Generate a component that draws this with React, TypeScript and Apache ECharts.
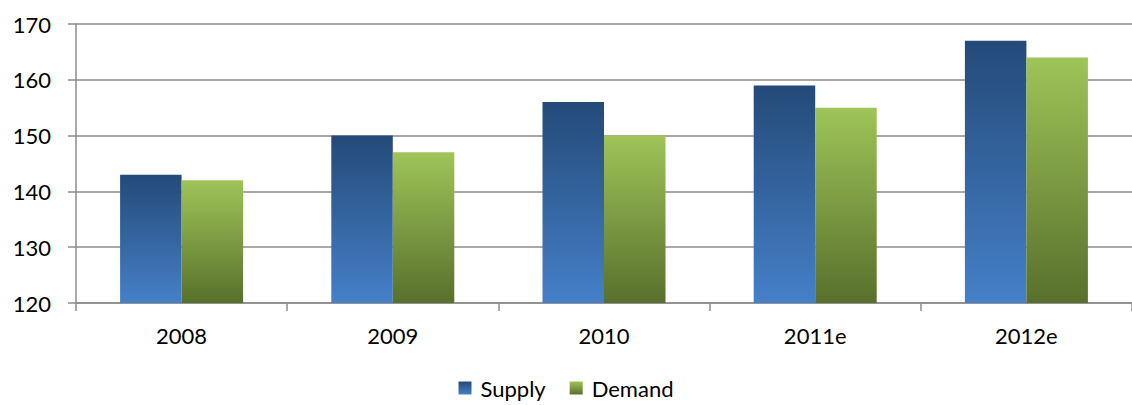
import React, { useEffect, useRef } from "react";
import * as echarts from "echarts";

const categories = ["2008", "2009", "2010", "2011e", "2012e"];
const supply = [143, 150, 156, 159, 167];
const demand = [142, 147, 150, 155, 164];
const yTicks = { min: 120, max: 170, interval: 10 };

export default function App() {
  const ref = useRef<HTMLDivElement>(null);
  useEffect(() => {
    document.body.style.margin = "0";
    const chart = echarts.init(ref.current!, null, { renderer: "svg" });
    const font = "Lato, 'Open Sans', sans-serif";
    const axisColor = "#8c8c8c";
    chart.setOption({
      animation: false,
      backgroundColor: "#ffffff",
      grid: { left: 76, top: 24, width: 1065, height: 279, containLabel: false },
      legend: {
        top: 372,
        left: "center",
        itemWidth: 13,
        itemHeight: 13,
        itemGap: 24,
        icon: "rect",
        textStyle: { fontFamily: font, fontSize: 22, color: "#000", padding: [0, 0, 0, 4] },
        data: ["Supply", "Demand"],
      },
      xAxis: {
        type: "category",
        data: categories,
        axisLine: { lineStyle: { color: axisColor, width: 1.5 } },
        axisTick: { show: true, length: 8, lineStyle: { color: axisColor, width: 1.5 } },
        axisLabel: { fontFamily: font, fontSize: 22, color: "#000", margin: 21 },
      },
      yAxis: {
        type: "value",
        min: yTicks.min,
        max: yTicks.max,
        interval: yTicks.interval,
        axisLine: { show: true, lineStyle: { color: axisColor, width: 1.5 } },
        axisTick: { show: true, length: 8, lineStyle: { color: axisColor, width: 1.5 } },
        splitLine: { lineStyle: { color: axisColor, width: 1.5 } },
        axisLabel: { fontFamily: font, fontSize: 22, color: "#000", margin: 25 },
      },
      series: [
        {
          name: "Supply",
          type: "bar",
          data: supply,
          barWidth: 61.5,
          barGap: "0%",
          itemStyle: {
            color: new echarts.graphic.LinearGradient(0, 0, 0, 1, [
              { offset: 0, color: "#244a78" },
              { offset: 1, color: "#4580c8" },
            ]),
          },
        },
        {
          name: "Demand",
          type: "bar",
          data: demand,
          barWidth: 61.5,
          barGap: "0%",
          itemStyle: {
            color: new echarts.graphic.LinearGradient(0, 0, 0, 1, [
              { offset: 0, color: "#9fc458" },
              { offset: 1, color: "#58702c" },
            ]),
          },
        },
      ],
    });
    return () => chart.dispose();
  }, []);
  return <div ref={ref} style={{ width: 1132, height: 405 }} />;
}
